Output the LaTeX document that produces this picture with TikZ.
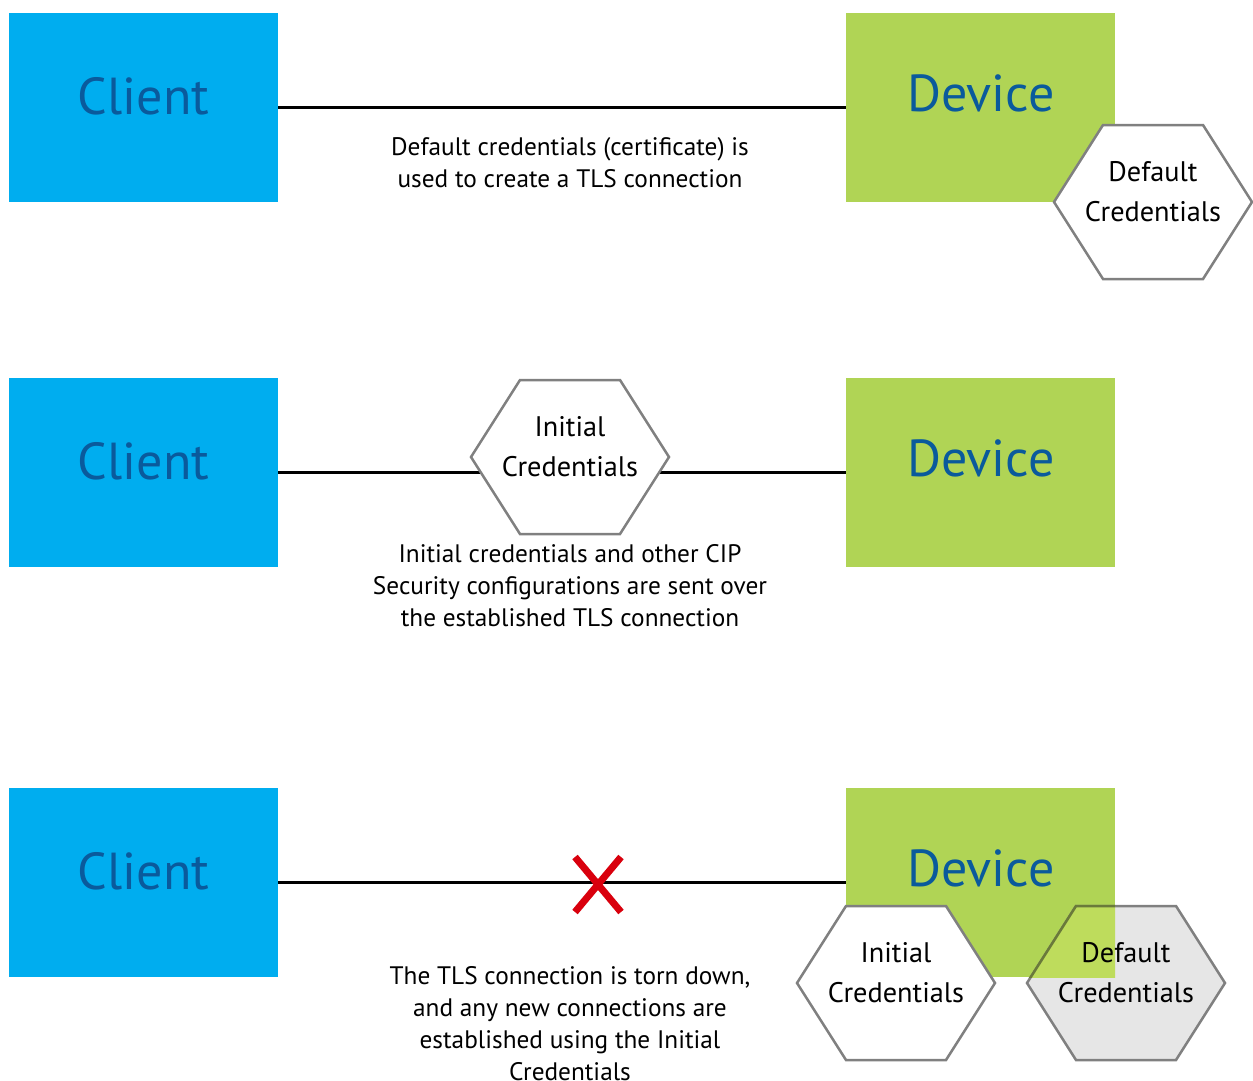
\documentclass[tikz,border=0pt]{standalone}
\usepackage{fontspec}
\setmainfont{PT Sans}
\definecolor{clientblue}{HTML}{00ADEF}
\definecolor{devgreen}{HTML}{B0D455}
\definecolor{titleblue}{HTML}{0A5A9C}
\definecolor{hexgray}{HTML}{808080}
\definecolor{hexfill}{HTML}{E6E6E6}
\definecolor{overgreen}{HTML}{BEDC5C}
\definecolor{overline}{HTML}{6A7A3A}
\definecolor{xred}{HTML}{D9000D}
\begin{document}
\begin{tikzpicture}[x=1pt,y=-1pt,
  box/.style={minimum width=269pt, minimum height=189pt, inner sep=0pt, draw=none, anchor=north west},
  client/.style={box, fill=clientblue},
  device/.style={box, fill=devgreen},
  title/.style={text=titleblue, font=\fontsize{52}{60}\selectfont, anchor=base, inner sep=0pt},
  conn/.style={line width=2.5pt, black},
  lbl/.style={align=center, font=\fontsize{25.3}{32}\selectfont, inner sep=0pt},
  hex/.style={draw=hexgray, line width=2.5pt, fill=white, line join=miter},
  hextext/.style={align=center, font=\fontsize{28.3}{40}\selectfont, inner sep=0pt},
  cross/.style={xred, line width=7pt}
]
\useasboundingbox (0,0) rectangle (1253,1080);
\fill[white] (0,0) rectangle (1253,1080);

% ---------- Row 1 ----------
\node[client] (c1) at (9,13) {};
\node[device] (d1) at (846,13) {};
\draw[conn] (c1.east) -- (d1.west);
\node[title] (ct1) at (143.5,114) {Client};
\node[title] (dt1) at (981,111) {Device};
\node[lbl] (l1) at (570,163) {Default credentials (certificate) is\\used to create a TLS connection};
\begin{scope}[shift={(1153,202)}]
  \draw[hex] (-99,0) -- (-50,-77) -- (50,-77) -- (99,0) -- (50,77) -- (-50,77) -- cycle;
  \node[hextext] (h1) at (0,-10) {Default\\Credentials};
\end{scope}

% ---------- Row 2 ----------
\node[client] (c2) at (9,378) {};
\node[device] (d2) at (846,378) {};
\draw[conn] (c2.east) -- (d2.west);
\node[title] (ct2) at (143.5,479) {Client};
\node[title] (dt2) at (981,476) {Device};
\begin{scope}[shift={(570,457)}]
  \draw[hex] (-99,0) -- (-50,-77) -- (50,-77) -- (99,0) -- (50,77) -- (-50,77) -- cycle;
  \node[hextext] (h2) at (0,-10) {Initial\\Credentials};
\end{scope}
\node[lbl] (l2) at (570,586) {Initial credentials and other CIP\\Security configurations are sent over\\the established TLS connection};

% ---------- Row 3 ----------
\node[client] (c3) at (9,788) {};
\node[device] (d3) at (846,788) {};
\draw[conn] (c3.east) -- (d3.west);
\node[title] (ct3) at (143.5,889) {Client};
\node[title] (dt3) at (981,886) {Device};
\coordinate (xa) at (575,857);
\coordinate (xb) at (621,912);
\coordinate (xc) at (621,857);
\coordinate (xd) at (575,912);
\draw[cross] (xa) -- (xb);
\draw[cross] (xc) -- (xd);
\node[lbl] (l3) at (570,1024) {The TLS connection is torn down,\\and any new connections are\\established using the Initial\\Credentials};
\begin{scope}[shift={(896,983)}]
  \draw[hex] (-99,0) -- (-50,-77) -- (50,-77) -- (99,0) -- (50,77) -- (-50,77) -- cycle;
  \node[hextext] (h3) at (0,-10) {Initial\\Credentials};
\end{scope}
\begin{scope}[shift={(1126,983)}]
  \draw[hex, fill=hexfill] (-99,0) -- (-50,-77) -- (50,-77) -- (99,0) -- (50,77) -- (-50,77) -- cycle;
\end{scope}
\begin{scope}
  \clip (846,788) rectangle (1115,977);
  \begin{scope}[shift={(1126,983)}]
    \draw[hex, fill=overgreen, draw=overline] (-99,0) -- (-50,-77) -- (50,-77) -- (99,0) -- (50,77) -- (-50,77) -- cycle;
  \end{scope}
\end{scope}
\node[hextext] (h4) at (1126,973) {Default\\Credentials};
\end{tikzpicture}
\end{document}
